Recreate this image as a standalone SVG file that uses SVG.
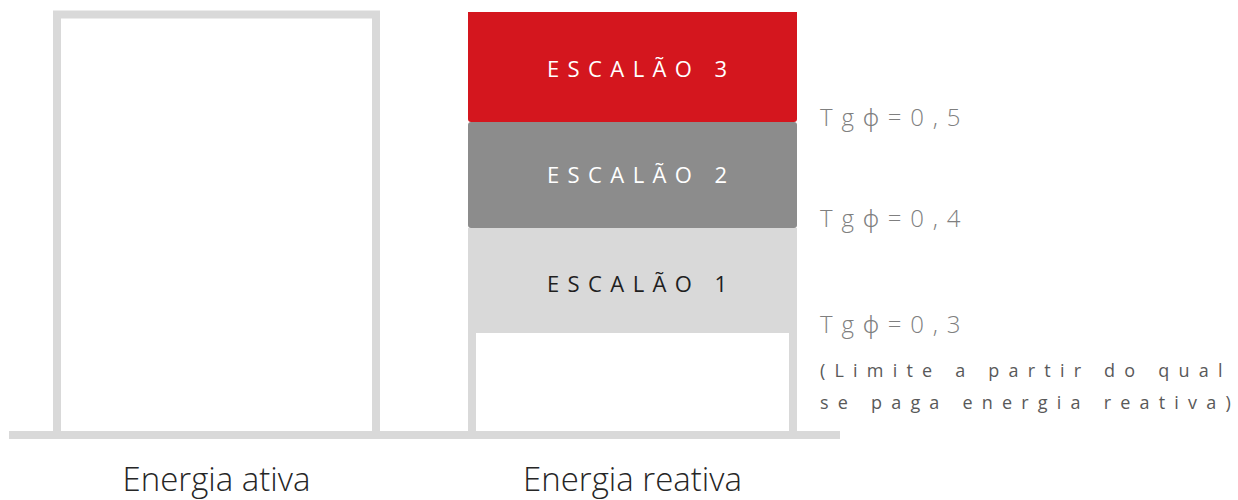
<svg xmlns="http://www.w3.org/2000/svg" width="1238" height="500" viewBox="0 0 1238 500">
<style>
.frame{fill:none;stroke:#d9d9d9;stroke-width:8}
.tier{font-family:"Open Sans","Liberation Sans",sans-serif;font-size:22px;letter-spacing:8.4px}
.tg{font-family:"Open Sans","Liberation Sans",sans-serif;font-size:24px;font-weight:300;fill:#7f7f7f;letter-spacing:8.8px}
.phi{font-family:"Noto Sans","DejaVu Sans",sans-serif;font-weight:300}
.note{font-family:"Open Sans","Liberation Sans",sans-serif;font-size:18px;fill:#595959;letter-spacing:9.2px}
.end{letter-spacing:0}
.cap{font-family:"Open Sans","Liberation Sans",sans-serif;font-size:33px;font-weight:300;fill:#262626;text-anchor:middle}
</style>
<rect width="1238" height="500" fill="#ffffff"/>
<g id="ativa">
  <path class="frame" d="M57 432 V14.5 H376 V432"/>
  <text class="cap" x="216.5" y="491">Energia ativa</text>
</g>
<g id="reativa">
  <rect x="468" y="228" width="329" height="204" fill="#d9d9d9"/>
  <rect x="476" y="333" width="313" height="99" fill="#ffffff"/>
  <text class="cap" x="632.5" y="491">Energia reativa</text>
</g>
<g id="escalao1">
  <text class="tier" x="547" y="292" fill="#1f1f1f">ESCALÃO 1</text>
</g>
<g id="escalao2">
  <rect x="468" y="122" width="329" height="106" rx="3" fill="#8c8c8c"/>
  <text class="tier" x="547" y="183" fill="#ffffff">ESCALÃO 2</text>
</g>
<g id="escalao3">
  <rect x="468" y="12" width="329" height="110" rx="3" fill="#d4161e"/>
  <rect x="468" y="12" width="329" height="10" fill="#d4161e"/>
  <text class="tier" x="547" y="77" fill="#ffffff">ESCALÃO 3</text>
</g>
<g id="limites">
  <text class="tg" x="820" y="126">Tg<tspan class="phi">ϕ</tspan>=0,5</text>
  <text class="tg" x="820" y="227">Tg<tspan class="phi">ϕ</tspan>=0,4</text>
  <text class="tg" x="820" y="333">Tg<tspan class="phi">ϕ</tspan>=0,3</text>
  <text class="note" x="820" y="377">(Limite a partir do qua<tspan class="end">l</tspan></text>
  <text class="note" x="820" y="409">se paga energia reativa<tspan class="end">)</tspan></text>
</g>
<g id="connectors">
  <line x1="9" y1="435" x2="840" y2="435" stroke="#d9d9d9" stroke-width="8"/>
</g>
</svg>
